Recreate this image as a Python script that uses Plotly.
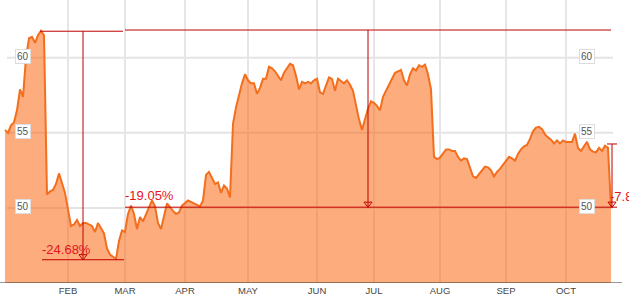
import plotly.graph_objects as go

# ---- data (trading-day index, closing price) ----
days = [0, 1, 2, 3, 4, 5, 6, 7, 8, 9, 10, 11, 12, 13, 14, 15, 16, 17, 18, 19, 20,
        22, 23, 24, 25, 26, 27, 29, 30, 31, 33, 34, 35, 36, 37, 38, 39, 40, 41, 42,
        43, 44, 45, 46, 48, 49, 50, 51, 52, 53, 54, 56, 57, 58, 59, 61, 62, 64, 65,
        66, 67, 68, 70, 71, 72, 73, 74, 75, 76, 77, 78, 79, 80, 81, 82, 83, 84, 85,
        86, 87, 88, 89, 90, 92, 93, 95, 96, 97, 98, 99, 100, 101, 102, 103, 104, 105,
        106, 108, 109, 110, 111, 113, 114, 115, 116, 118, 119, 120, 121, 122, 123,
        124, 125, 126, 127, 129, 130, 131, 132, 133, 134, 135, 136, 137, 138, 139,
        140, 141, 142, 143, 144, 145, 147, 148, 149, 150, 151, 152, 153, 154, 155,
        156, 157, 159, 160, 161, 162, 163, 164, 165, 167, 168, 169, 170, 171, 172,
        173, 174, 175, 176, 177, 178, 179, 180, 181, 182, 183, 184, 185, 186, 187,
        189, 190, 191, 192, 193, 194, 195, 196, 197, 198, 199, 200, 201, 202]
prices = [55.2, 55.0, 55.5, 55.7, 56.5, 57.9, 57.4, 60.0, 61.3, 61.4, 61.0, 61.5, 61.8,
          61.5, 50.9, 51.1, 51.2, 51.6, 52.3, 51.6, 51.0,
          48.8, 48.9, 49.2, 48.8, 49.0, 49.0, 48.8, 48.4, 49.0, 48.3, 47.3, 46.9, 46.75,
          46.6, 47.8, 48.5, 48.4, 49.6, 50.15,
          49.6, 48.6, 49.4, 49.1, 50.0, 50.5, 50.1, 49.0, 48.6, 49.5, 50.3, 49.8, 49.6,
          49.7, 50.15, 50.5, 50.4, 50.15, 50.1,
          50.5, 52.2, 52.4, 51.6, 51.7, 51.0, 51.5, 51.3, 50.7, 55.6, 56.7, 57.6, 58.3,
          58.9, 58.5, 58.3, 58.3, 57.6, 58.0,
          58.6, 58.6, 59.4, 59.3, 59.1, 58.5, 59.0, 59.6, 59.5, 58.8, 57.9, 58.4, 58.3,
          58.4, 58.3, 58.5, 58.6, 57.7,
          57.6, 58.7, 58.6, 57.8, 58.6, 58.3, 58.5, 58.2, 57.8, 55.9, 55.2, 55.9, 56.6,
          57.1, 57.0,
          56.8, 56.5, 57.4, 57.8, 58.5, 59.0, 59.1, 59.2, 58.5, 58.15, 58.9, 59.3, 59.15,
          59.5, 59.4,
          59.55, 58.9, 57.9, 53.4, 53.25, 53.35, 53.9, 53.9, 53.8, 53.8, 53.4, 53.15,
          53.3, 53.25, 52.7,
          52.1, 52.0, 52.5, 52.75, 52.7, 52.5, 52.1, 52.4, 52.6, 53.1, 53.4, 53.3, 53.15,
          53.6, 53.9,
          54.1, 54.2, 54.6, 55.1, 55.35, 55.4, 55.25, 54.9, 54.7, 54.55, 54.3, 54.5,
          54.3, 54.5, 54.4,
          54.4, 54.95, 54.0, 53.8, 54.1, 54.4, 53.9, 53.75, 53.7, 54.0, 53.8, 54.15,
          54.0, 50.05]

month_labels = ["FEB", "MAR", "APR", "MAY", "JUN", "JUL", "AUG", "SEP", "OCT"]
month_starts = [21, 40, 60, 81, 104, 123, 145, 167, 187]
y_ticks = [50, 55, 60]

# drawdown annotations
dd_labels = ["-24.68%", "-19.05%", "-7.8%"]
dd_peaks = [61.77, 61.85, 54.26]
dd_troughs = [46.55, 50.05, 50.05]

# ---- layout geometry ----
W, H = 629, 300
PX = 3.0          # pixels per trading day
X0 = 5.0          # pixel position of day 0
def px2i(p):
    return (p - X0) / PX

Y_MIN, Y_MAX = 45.0, 63.85
RED = "#c00000"
RED_TXT = "#e4141b"

fig = go.Figure()
fig.add_trace(go.Scatter(
    x=days, y=prices, mode="lines",
    line=dict(color="#f36e1d", width=2),
    fill="tozeroy", fillcolor="rgba(249,98,10,0.53)",
    hoverinfo="skip", showlegend=False,
))

shapes = []
# horizontal gridlines
for v in y_ticks:
    shapes.append(dict(type="line", xref="x", yref="y", layer="below",
                       x0=px2i(7), x1=px2i(613), y0=v, y1=v,
                       line=dict(color="#e4e4e4", width=2)))
# baseline
shapes.append(dict(type="line", xref="x", yref="y",
                   x0=px2i(0), x1=px2i(622), y0=Y_MIN, y1=Y_MIN,
                   line=dict(color="#333333", width=1)))

def hline(x0p, x1p, v):
    shapes.append(dict(type="line", xref="x", yref="y", x0=px2i(x0p), x1=px2i(x1p),
                       y0=v, y1=v, line=dict(color=RED, width=1)))
def vline(xp, v0, v1):
    shapes.append(dict(type="line", xref="x", yref="y", x0=px2i(xp), x1=px2i(xp),
                       y0=v0, y1=v1, line=dict(color=RED, width=1)))

# drawdown 1
hline(40, 123, dd_peaks[0]); hline(42, 124, dd_troughs[0]); vline(83, dd_peaks[0], dd_troughs[0])
# drawdown 2
hline(125, 611, dd_peaks[1]); hline(125, 617, dd_troughs[1]); vline(368, dd_peaks[1], dd_troughs[1])
# drawdown 3
hline(607, 617, dd_peaks[2]); vline(612, dd_peaks[2], dd_troughs[2])

fig.add_trace(go.Scatter(
    x=[px2i(83), px2i(368), px2i(612)],
    y=[t + 0.22 for t in dd_troughs],
    mode="markers",
    marker=dict(symbol="triangle-down-open", size=7, color=RED, line=dict(width=1, color=RED)),
    hoverinfo="skip", showlegend=False,
))

annotations = []
lab_pos = [(px2i(66.5), 47.22, "center"), (px2i(149), 50.82, "center"), (px2i(608), 50.75, "left")]
for (xx, yy, anc), txt in zip(lab_pos, dd_labels):
    annotations.append(dict(x=xx, y=yy, xref="x", yref="y", text=txt, showarrow=False,
                            xanchor=anc, yanchor="middle",
                            font=dict(family="Liberation Sans, Arial", size=13, color=RED_TXT)))
# boxed y labels on both sides
for v in y_ticks:
    for xp in (22.5, 587):
        annotations.append(dict(x=xp / W, y=v, xref="paper", yref="y", text=str(v),
                                showarrow=False, xanchor="center", yanchor="middle", yshift=1.5,
                                bgcolor="white", bordercolor="#dddddd", borderwidth=1, borderpad=1,
                                font=dict(family="Liberation Sans, Arial", size=10, color="#555555")))

fig.update_layout(
    width=W, height=H,
    margin=dict(l=0, r=0, t=0, b=17, pad=0),
    paper_bgcolor="white", plot_bgcolor="white",
    shapes=shapes, annotations=annotations,
    showlegend=False,
    xaxis=dict(range=[px2i(0), px2i(W)], tickmode="array", tickvals=month_starts,
               ticktext=month_labels, showgrid=True, gridcolor="#e6e6e6", gridwidth=2,
               zeroline=False, showline=False, ticks="", automargin=False,
               tickfont=dict(family="Liberation Sans, Arial", size=9.5, color="#444444"),
               fixedrange=True),
    yaxis=dict(range=[Y_MIN, Y_MAX], showgrid=False, zeroline=False, showticklabels=False,
               showline=False, ticks="", automargin=False, fixedrange=True),
)

fig.write_html("out.html")
